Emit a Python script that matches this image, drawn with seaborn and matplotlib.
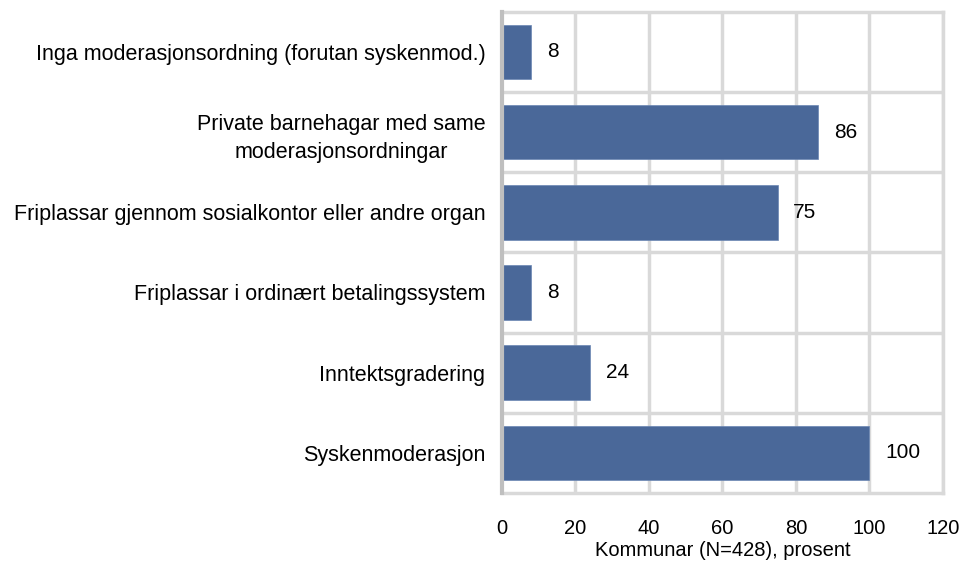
import matplotlib
matplotlib.use("Agg")
import matplotlib.pyplot as plt
import seaborn as sns
import pandas as pd

categories = [
    "Inga moderasjonsordning (forutan syskenmod.)",
    "Private barnehagar med same\nmoderasjonsordningar",
    "Friplassar gjennom sosialkontor eller andre organ",
    "Friplassar i ordinært betalingssystem",
    "Inntektsgradering",
    "Syskenmoderasjon",
]
values = [8, 86, 75, 8, 24, 100]
x_ticks = [0, 20, 40, 60, 80, 100, 120]
x_label = "Kommunar (N=428), prosent"

sns.set_theme(style="white")
plt.rcParams["font.family"] = ["Liberation Sans", "DejaVu Sans"]

df = pd.DataFrame({"cat": categories, "val": values})

fig = plt.figure(figsize=(9.7, 5.62), dpi=100)
ax = fig.add_axes([0.5175, 0.123, 0.972 - 0.5175, 0.979 - 0.123])

sns.barplot(data=df, y="cat", x="val", color="#4a6899", width=0.68, ax=ax,
            saturation=1, edgecolor="#6a86b3", linewidth=0.5, zorder=3)

ax.set_xlim(0, 120)
ax.set_ylim(5.5, -0.5)
ax.set_xticks(x_ticks)
ax.set_xticklabels([str(t) for t in x_ticks], fontsize=14.5, color="black")
ax.set_yticks(range(len(categories)))
ax.set_yticklabels(categories, fontsize=15.5, color="black", linespacing=1.45,
                   multialignment="center")
ax.tick_params(axis="x", length=0, pad=19)
ax.tick_params(axis="y", length=0, pad=12)
ax.set_xlabel(x_label, fontsize=14.5, labelpad=2, color="black")
ax.set_ylabel("")

grid_c = "#d9d9d9"
for t in x_ticks[1:]:
    ax.axvline(t, color=grid_c, lw=2.5, zorder=1)
for b in [0.5, 1.5, 2.5, 3.5, 4.5]:
    ax.axhline(b, color=grid_c, lw=2.5, zorder=1)
for side in ["top", "right", "bottom"]:
    ax.spines[side].set_color(grid_c)
    ax.spines[side].set_linewidth(2.5)
ax.spines["left"].set_color("#bfbfbf")
ax.spines["left"].set_linewidth(3)
ax.spines["left"].set_zorder(4)

for i, v in enumerate(values):
    ax.text(v + 4.3, i, str(v), va="center", ha="left", fontsize=15, color="black", zorder=5)

fig.savefig("out.png", dpi=100)
